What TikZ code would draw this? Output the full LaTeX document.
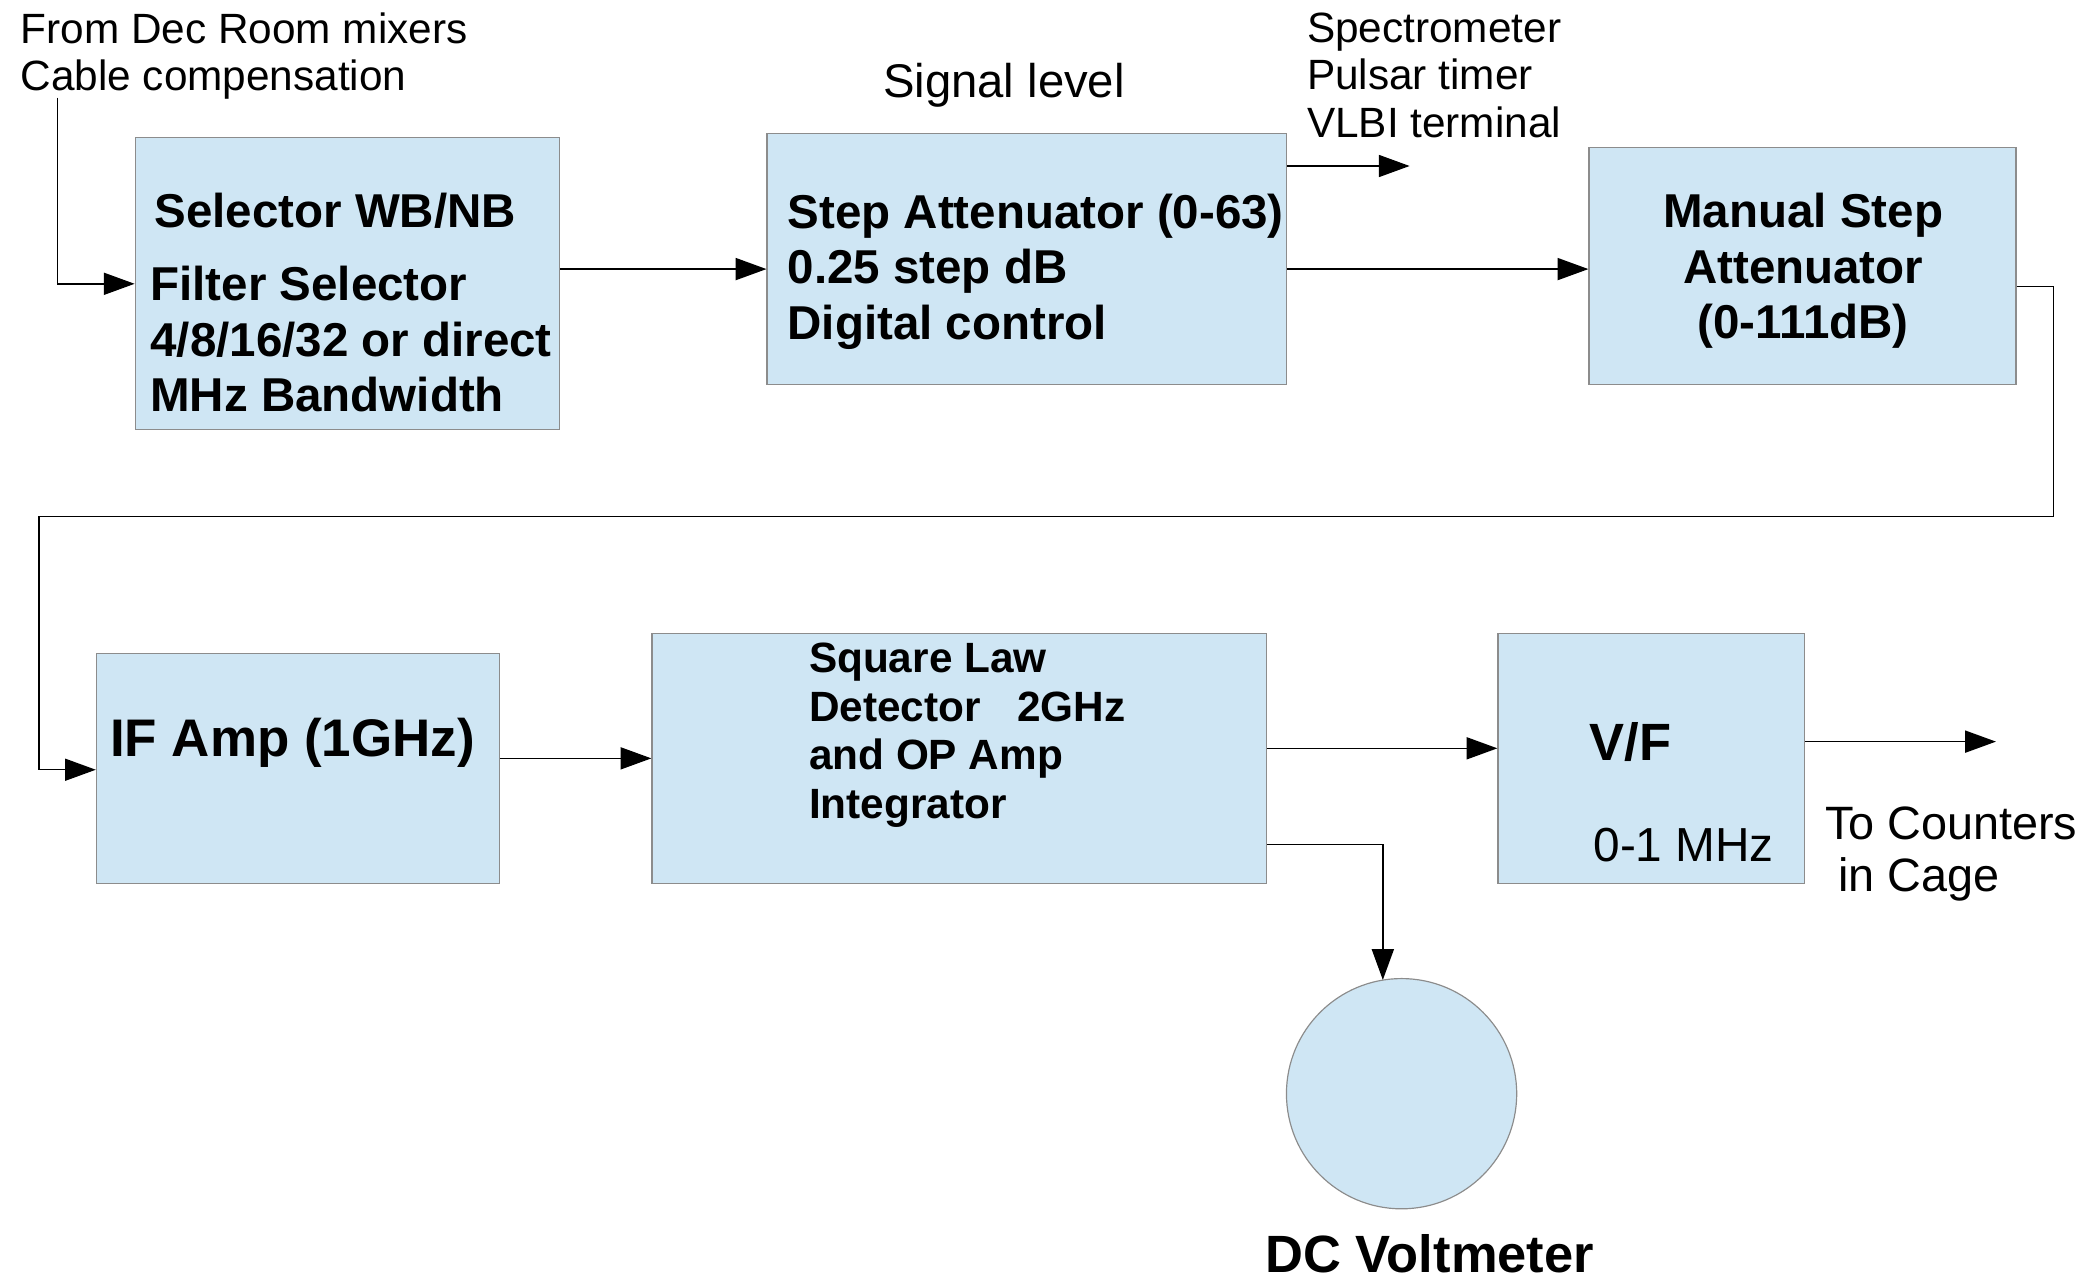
\documentclass[tikz,border=0pt]{standalone}
\usepackage{fontspec}
\setmainfont{Liberation Sans}
\usetikzlibrary{arrows.meta}
\newlength\un
\setlength\un{0.02cm}
\definecolor{boxfill}{RGB}{207,230,244}
\definecolor{boxline}{RGB}{140,140,140}
\tikzset{
  blk/.style={rectangle, draw=boxline, fill=boxfill, line width=0.5pt, inner sep=0pt},
  wire/.style={line width=0.6pt, -{Triangle[length=0.46cm, width=0.33cm]}},
  txt/.style={inner sep=0pt, anchor=north west, align=left},
  lbl/.style={font=\fontsize{18pt}{20.3pt}\selectfont},
  bold/.style={font=\fontsize{20.2pt}{23.6pt}\selectfont\bfseries},
}
\begin{document}
\begin{tikzpicture}[x=0.02cm, y=-0.02cm]
\useasboundingbox (0,0) rectangle (1568,958);

% signal-chain blocks
\node[blk, minimum width=317\un, minimum height=218\un] (sel) at (259.5,212) {};
\node[blk, minimum width=388\un, minimum height=187\un] (att) at (767,193.5) {};
\node[blk, minimum width=319\un, minimum height=177\un] (man) at (1346.5,198.5) {};
\node[blk, minimum width=301\un, minimum height=172\un] (ifa) at (222.5,574) {};
\node[blk, minimum width=459\un, minimum height=187\un] (sq) at (716.5,566.5) {};
\node[blk, minimum width=229\un, minimum height=187\un] (vf) at (1233.5,566.5) {};
\node[blk, circle, minimum size=172\un] (vm) at (1047,817) {};

% block texts
\node[txt, bold] (seltxt) at (112,143.5) {\hspace*{3\un}Selector WB/NB\\[13.5\un]Filter Selector\\4/8/16/32 or direct\\MHz Bandwidth};
\node[txt, bold] (atttxt) at (588,144.5) {Step Attenuator (0-63)\\0.25 step dB\\Digital control};
\node[inner sep=0pt, anchor=north, align=center, bold] (mantxt) at (1347,144) {Manual Step\\Attenuator\\(0-111dB)};
\node[txt, font=\fontsize{22.5pt}{26pt}\selectfont\bfseries] (ifatxt) at (82,536) {IF Amp (1GHz)};
\node[txt, font=\fontsize{18pt}{20.66pt}\selectfont\bfseries] (sqtxt) at (604,480) {Square Law\\Detector\hspace{0.548cm}2GHz\\and OP Amp\\Integrator};
\node[txt, font=\fontsize{22.3pt}{26pt}\selectfont\bfseries] (vftxt) at (1187,539) {V/F};
\node[txt, font=\fontsize{20.3pt}{24pt}\selectfont] (vfrange) at (1190,618) {0-1 MHz};
\node[inner sep=0pt, anchor=north, font=\fontsize{22.3pt}{26pt}\selectfont\bfseries] (vmtxt) at (1068,922) {DC Voltmeter};

% free labels
\node[txt, lbl] (src) at (15,9) {From Dec Room mixers\\Cable compensation};
\node[txt, lbl] (taps) at (976,9) {Spectrometer\\Pulsar timer\\VLBI terminal};
\node[inner sep=0pt, anchor=base, font=\fontsize{20.1pt}{24pt}\selectfont] (level) at (750,73) {Signal level};
\node[txt, font=\fontsize{19.9pt}{22.5pt}\selectfont] (cnt) at (1363,602) {To Counters\\\hspace*{10\un}in Cage};

% routing points
\coordinate (srcpt) at (43,73);
\coordinate (r1) at (0,201);
\coordinate (tapend) at (1053,124);
\coordinate (t1) at (1534,214);
\coordinate (t2) at (29,386);
\coordinate (t3) at (0,575);
\coordinate (r5) at (0,559);
\coordinate (r6) at (0,631);
\coordinate (vmin) at (1033,732);
\coordinate (outend) at (1491,554);

% connectors
\draw[wire] (srcpt) |- (sel.west);
\draw[wire] (sel.east |- r1) -- (att.west |- r1);
\draw[wire] (att.east |- tapend) -- (tapend);
\draw[wire] (att.east |- r1) -- (man.west |- r1);
\draw[wire] (man.east |- t1) -- (t1) |- (t2) |- (ifa.west |- t3);
\draw[wire] (ifa.east |- sq.west) -- (sq.west);
\draw[wire] (sq.east |- r5) -- (vf.west |- r5);
\draw[wire] (sq.east |- r6) -| (vmin);
\draw[wire] (vf.east |- outend) -- (outend);
\end{tikzpicture}
\end{document}
